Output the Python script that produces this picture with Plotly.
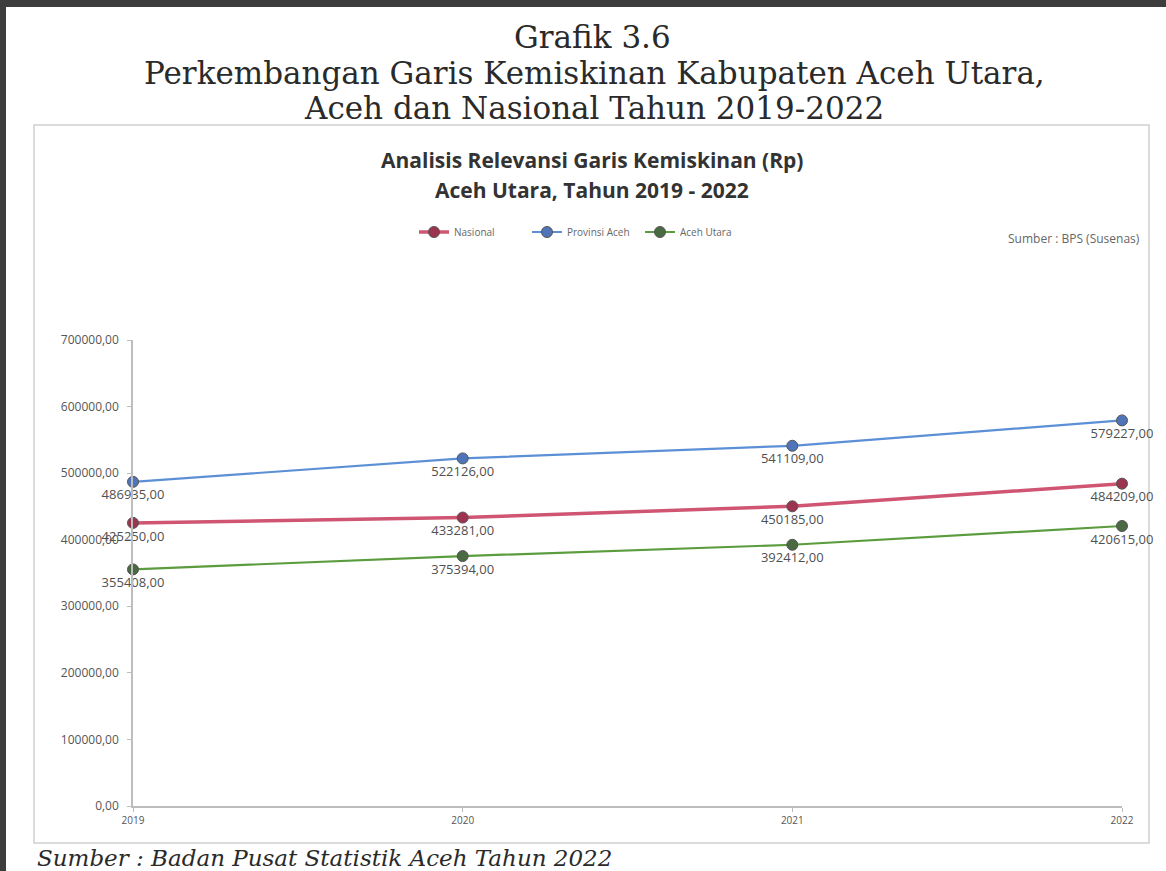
import plotly.graph_objects as go

years = [2019, 2020, 2021, 2022]
nasional = [425250, 433281, 450185, 484209]
provinsi_aceh = [486935, 522126, 541109, 579227]
aceh_utara = [355408, 375394, 392412, 420615]
series_names = ["Nasional", "Provinsi Aceh", "Aceh Utara"]
y_ticks = [0, 100000, 200000, 300000, 400000, 500000, 600000, 700000]
y_tick_labels = ["0,00", "100000,00", "200000,00", "300000,00", "400000,00",
                 "500000,00", "600000,00", "700000,00"]
x_tick_labels = ["2019", "2020", "2021", "2022"]

W, H = 1166, 871
ML, MR, MT, MB = 133, 44, 340, 65
PW, PH = W - ML - MR, H - MT - MB


def px(x):
    return (x - ML) / PW


def py(y):
    return (H - MB - y) / PH


def lab(v):
    return f"{v:d},00"


fig = go.Figure()
styles = [
    ("#cf5572", "#9c3450", 3.5),
    ("#5b8fd6", "#4f74b8", 2.2),
    ("#5a9c3e", "#4a6a42", 2.2),
]
for name, vals, (lc, mc, lw) in zip(series_names, [nasional, provinsi_aceh, aceh_utara], styles):
    fig.add_trace(go.Scatter(
        x=years, y=vals, name=name,
        mode="lines+markers+text",
        line=dict(color=lc, width=lw),
        marker=dict(size=11, color=mc, line=dict(color="#555", width=1)),
        text=[lab(v) for v in vals],
        textposition="bottom center",
        textfont=dict(family="Open Sans", size=13, color="#505050"),
        cliponaxis=False,
    ))

shapes = [
    dict(type="rect", xref="paper", yref="paper", x0=px(0), x1=px(6), y0=py(H), y1=py(0),
         fillcolor="#3d3d3d", line=dict(width=0), layer="below"),
    dict(type="rect", xref="paper", yref="paper", x0=px(0), x1=px(W), y0=py(7), y1=py(0),
         fillcolor="#3d3d3d", line=dict(width=0), layer="below"),
    dict(type="rect", xref="paper", yref="paper", x0=px(34), x1=px(1149), y0=py(843), y1=py(125),
         line=dict(color="#cfcfcf", width=1.5), layer="below"),
]


def ann(text, x, y, size, family="DejaVu Serif", color="#2a2a2a", xanchor="center"):
    return dict(text=text, x=px(x), y=py(y), xref="paper", yref="paper",
                xanchor=xanchor, yanchor="middle", showarrow=False,
                font=dict(family=family, size=size, color=color))


annotations = [
    ann("Grafik 3.6", 592, 37, 31),
    ann("Perkembangan Garis Kemiskinan Kabupaten Aceh Utara,", 594, 73, 31),
    ann("Aceh dan Nasional Tahun 2019-2022", 594, 108, 31),
    ann("<b>Analisis Relevansi Garis Kemiskinan (Rp)</b>", 592, 160, 21, "Open Sans", "#333"),
    ann("<b>Aceh Utara, Tahun 2019 - 2022</b>", 592, 190, 21, "Open Sans", "#333"),
    ann("Sumber : BPS (Susenas)", 1142, 238, 12, "Open Sans", "#666", "right"),
    ann("<i>Sumber : Badan Pusat Statistik Aceh Tahun 2022</i>", 35, 858, 23,
        xanchor="left"),
]

fig.update_layout(
    width=W, height=H,
    margin=dict(l=ML, r=MR, t=MT, b=MB),
    paper_bgcolor="white", plot_bgcolor="white",
    shapes=shapes, annotations=annotations,
    showlegend=True,
    legend=dict(orientation="h", x=px(414), y=py(232), xanchor="left", yanchor="middle",
                font=dict(family="Open Sans", size=10, color="#666"),
                entrywidth=68, entrywidthmode="pixels",
                itemwidth=30, tracegroupgap=0, bgcolor="rgba(0,0,0,0)"),
    xaxis=dict(range=[2019, 2022], tickvals=years, ticktext=x_tick_labels,
               showgrid=False, zeroline=False, showline=True, linecolor="#bdbdbd",
               linewidth=1.5, ticks="outside", ticklen=4, tickcolor="#bdbdbd",
               tickfont=dict(family="Open Sans", size=10, color="#555")),
    yaxis=dict(range=[0, 700000], tickvals=y_ticks, ticktext=y_tick_labels,
               showgrid=False, zeroline=False, showline=True, linecolor="#bdbdbd",
               linewidth=1.5, ticks="outside", ticklen=4, tickcolor="#bdbdbd",
               ticklabelstandoff=6,
               tickfont=dict(family="Open Sans", size=12, color="#555")),
)

fig.write_html("out.html", config={"displayModeBar": False},
               post_script="document.body.style.margin='0';document.body.style.overflow='hidden';")
